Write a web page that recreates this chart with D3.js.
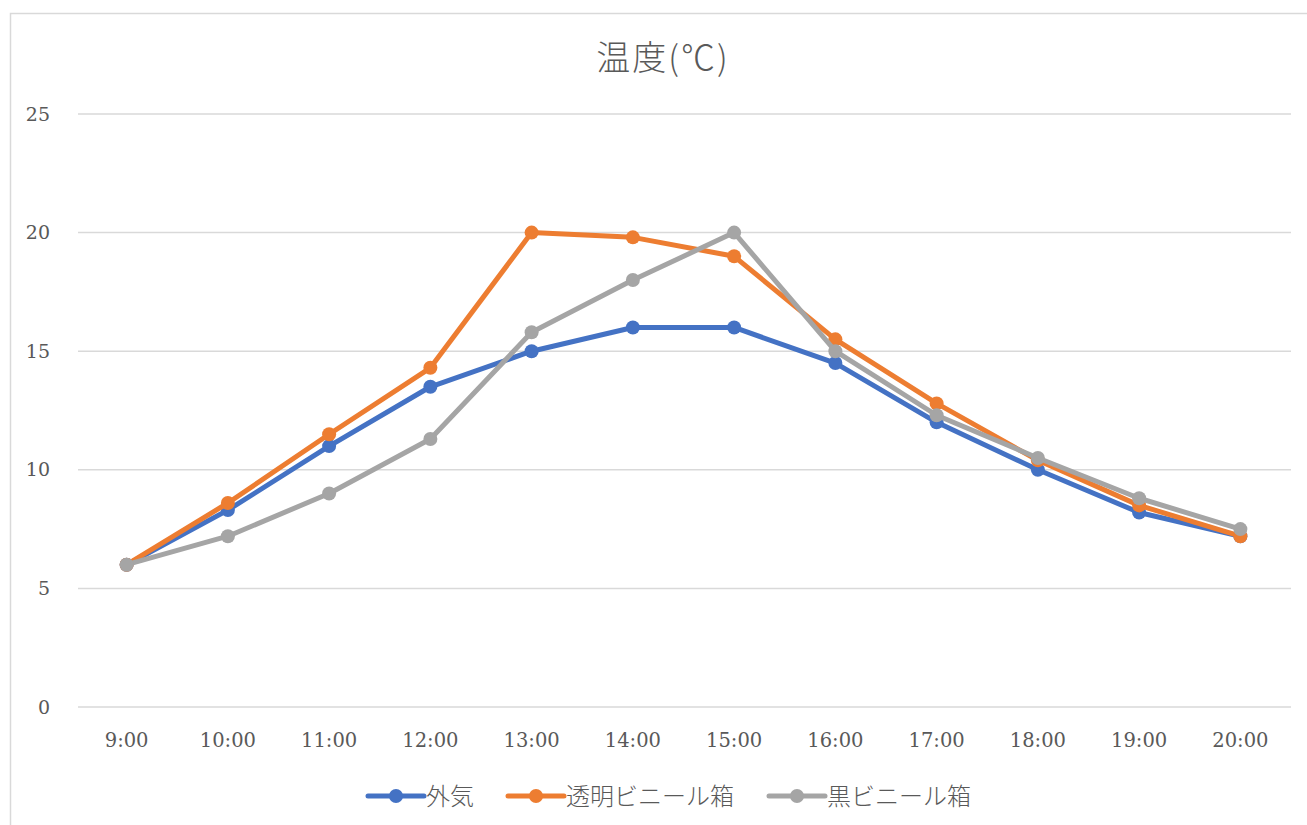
<!DOCTYPE html>
<html>
<head>
<meta charset="utf-8">
<script src="https://cdn.jsdelivr.net/npm/d3@7"></script>
<style>
body { margin: 0; background: #fff; }
svg { display: block; }
</style>
</head>
<body>
<div id="chart"></div>
<script>
// data
var times = ["9:00", "10:00", "11:00", "12:00", "13:00", "14:00", "15:00", "16:00", "17:00", "18:00", "19:00", "20:00"];
var outside = [6, 8.3, 11, 13.5, 15, 16, 16, 14.5, 12, 10, 8.2, 7.2];
var clearBox = [6, 8.6, 11.5, 14.3, 20, 19.8, 19, 15.5, 12.8, 10.4, 8.5, 7.2];
var blackBox = [6, 7.2, 9, 11.3, 15.8, 18, 20, 15, 12.3, 10.5, 8.8, 7.5];
var seriesNames = ["外気", "透明ビニール箱", "黒ビニール箱"];
var seriesColors = ["#4472C4", "#ED7D31", "#A5A5A5"];
var yTicks = [0, 5, 10, 15, 20, 25];

var width = 1307, height = 825;
var margin = {top: 114, right: 16, bottom: 118, left: 76};

var svg = d3.select("#chart").append("svg")
	.attr("width", width)
	.attr("height", height);

// chart frame
svg.append("rect")
	.attr("x", 10.5).attr("y", 13.5)
	.attr("width", width + 20).attr("height", height + 20)
	.attr("fill", "none")
	.attr("stroke", "#D9D9D9")
	.attr("stroke-width", 1.5);

var x = d3.scaleBand().domain(times)
	.range([margin.left, width - margin.right]);
var y = d3.scaleLinear().domain([0, 25])
	.range([height - margin.bottom, margin.top]);

// grid lines
svg.append("g").selectAll("line")
	.data(yTicks)
	.enter().append("line")
		.attr("x1", margin.left + 2)
		.attr("x2", width - margin.right)
		.attr("y1", function(d) { return y(d); })
		.attr("y2", function(d) { return y(d); })
		.attr("stroke", "#D9D9D9")
		.attr("stroke-width", 1.5);

// y labels
svg.append("g").selectAll("text")
	.data(yTicks)
	.enter().append("text")
		.attr("x", 50)
		.attr("y", function(d) { return y(d); })
		.attr("dy", "0.35em")
		.attr("text-anchor", "end")
		.attr("font-family", "'DejaVu Serif', serif")
		.attr("font-size", 19)
		.attr("fill", "#595959")
		.text(function(d) { return d; });

// x labels
svg.append("g").selectAll("text")
	.data(times)
	.enter().append("text")
		.attr("x", function(d) { return x(d) + x.bandwidth() / 2; })
		.attr("y", 747)
		.attr("text-anchor", "middle")
		.attr("font-family", "'DejaVu Serif', serif")
		.attr("font-size", 19.5)
		.attr("fill", "#595959")
		.text(function(d) { return d; });

// title
svg.append("text")
	.attr("x", 663)
	.attr("y", 70)
	.attr("text-anchor", "middle")
	.attr("font-family", "'Noto Sans CJK JP', sans-serif")
	.attr("font-size", 34)
	.attr("font-weight", 300)
	.attr("letter-spacing", 2)
	.attr("fill", "#595959")
	.text("温度(℃)");

var allSeries = [outside, clearBox, blackBox];
var line = d3.line()
	.x(function(d, i) { return x(times[i]) + x.bandwidth() / 2; })
	.y(function(d) { return y(d); });

allSeries.forEach(function(vals, s) {
	var g = svg.append("g");
	g.append("path")
		.datum(vals)
		.attr("d", line)
		.attr("fill", "none")
		.attr("stroke", seriesColors[s])
		.attr("stroke-width", 5)
		.attr("stroke-linejoin", "round")
		.attr("stroke-linecap", "round");
	g.selectAll("circle")
		.data(vals)
		.enter().append("circle")
			.attr("cx", function(d, i) { return x(times[i]) + x.bandwidth() / 2; })
			.attr("cy", function(d) { return y(d); })
			.attr("r", 7)
			.attr("fill", seriesColors[s]);
});

// legend
var legendX = [368, 508, 769];
var legendY = 796;
seriesNames.forEach(function(name, s) {
	var lg = svg.append("g").attr("transform", "translate(" + legendX[s] + "," + legendY + ")");
	lg.append("line")
		.attr("x1", 0).attr("x2", 56)
		.attr("y1", 0).attr("y2", 0)
		.attr("stroke", seriesColors[s])
		.attr("stroke-width", 5)
		.attr("stroke-linecap", "round");
	lg.append("circle")
		.attr("cx", 28).attr("cy", 0).attr("r", 7)
		.attr("fill", seriesColors[s]);
	lg.append("text")
		.attr("x", 58)
		.attr("y", 0)
		.attr("dy", "0.36em")
		.attr("font-family", "'Noto Sans CJK JP', sans-serif")
		.attr("font-size", 24)
		.attr("font-weight", 300)
		.attr("fill", "#595959")
		.text(name);
});
</script>
</body>
</html>
